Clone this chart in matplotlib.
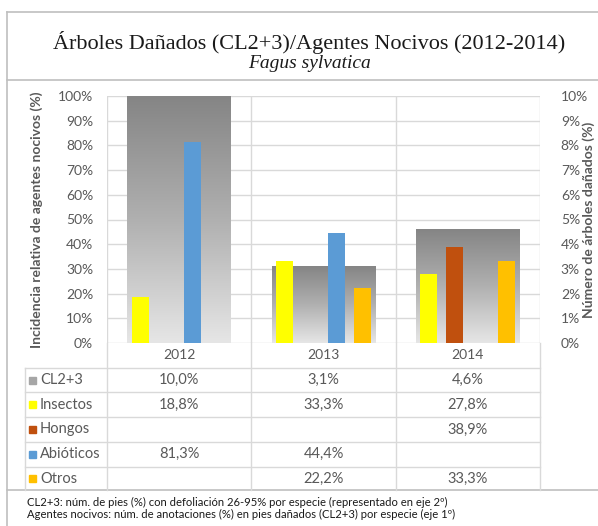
import matplotlib.pyplot as plt
import numpy as np
from matplotlib.colors import LinearSegmentedColormap

# datos
years = ["2012", "2013", "2014"]
cl23 = [10.0, 3.1, 4.6]                      # % árboles dañados (eje 2º)
agentes = ["Insectos", "Hongos", "Abióticos", "Otros"]
insectos = [18.8, 33.3, 27.8]
hongos = [None, None, 38.9]
abioticos = [81.3, 44.4, None]
otros = [None, 22.2, 33.3]
colores = ["#FFFF00", "#C0500E", "#5B9BD5", "#FFC000"]

W, H = 598, 526
fig = plt.figure(figsize=(W / 100, H / 100), dpi=100)
plt.rcParams['font.family'] = ['Lato', 'DejaVu Sans']
gris = "#595959"
linea = "#d9d9d9"

# geometría (pixeles)
px_l, px_r, px_t, px_b = 107, 540, 96, 343
row_h = 24.7
tab_left = 25

def fx(x):
    return x / W

def fy(y):
    return 1 - y / H

# capa de fondo en pixeles
bg = fig.add_axes([0, 0, 1, 1], zorder=0)
bg.set_xlim(0, W)
bg.set_ylim(H, 0)
bg.axis("off")

# marco
bg.plot([7, W], [12, 12], color="#bfbfbf", lw=1.2)
bg.plot([7, W], [80, 80], color="#bfbfbf", lw=1.2)
bg.plot([7, 7], [12, H], color="#bfbfbf", lw=1.2)
bg.plot([7, W], [490, 490], color="#bfbfbf", lw=1.2)

bg.text(309, 42, "Árboles Dañados (CL2+3)/Agentes Nocivos (2012-2014)",
        family="Liberation Serif", fontsize=16, ha="center", va="center", color="#1a1a1a")
bg.text(309, 63, "Fagus sylvatica", family="Liberation Serif", style="italic",
        fontsize=14, ha="center", va="center", color="#1a1a1a")

# ejes principal y secundario
ax2 = fig.add_axes([fx(px_l), fy(px_b), fx(px_r - px_l), (px_b - px_t) / H], zorder=1)
ax = ax2.twinx()
ax.set_zorder(2)
ax.patch.set_visible(False)
ax2.patch.set_visible(False)

ax2.yaxis.tick_right()
ax.yaxis.tick_left()
ax2.yaxis.set_label_position("right")
ax.yaxis.set_label_position("left")

x = np.arange(len(years))
cat_w = 0.72
grad = np.linspace(0, 1, 256).reshape(-1, 1)
cmap_cl = LinearSegmentedColormap.from_list("cl", ["#e6e6e6", "#b0b0b0", "#858585"])
for xi, v in zip(x, cl23):
    ax2.imshow(grad, extent=(xi - cat_w / 2, xi + cat_w / 2, 0, v), aspect="auto",
               cmap=cmap_cl, origin="lower", zorder=2, interpolation="bilinear")

ax2.set_xlim(-0.5, len(years) - 0.5)
ax2.set_ylim(0, 10)
ax2.set_yticks(np.arange(0, 11, 1))
ax2.set_yticklabels([f"{t}%" for t in range(0, 11)])
ax2.grid(axis="y", color=linea, lw=1, zorder=0)
ax2.set_axisbelow(True)
for b in np.arange(-0.5, len(years), 1):
    ax2.axvline(b, color=linea, lw=1, zorder=0)

bar_w = 0.117
offs = [-0.27, -0.09, 0.09, 0.27]
for serie, col, off in zip([insectos, hongos, abioticos, otros], colores, offs):
    vals = [v if v is not None else 0 for v in serie]
    ax.bar(x + off, vals, width=bar_w, color=col, zorder=3)

ax.set_ylim(0, 100)
ax.set_yticks(np.arange(0, 101, 10))
ax.set_yticklabels([f"{t}%" for t in range(0, 101, 10)])
ax.set_xticks([])
ax2.set_xticks([])
for a in (ax, ax2):
    for s in a.spines.values():
        s.set_visible(False)
    a.tick_params(length=0, labelsize=10, labelcolor=gris)
ax.tick_params(axis="y", pad=10)
ax2.tick_params(axis="y", pad=15)

ax.set_ylabel("Incidencia relativa de agentes nocivos (%)", fontsize=10,
              fontweight="bold", color=gris, labelpad=11)
bg.text(589, 220, "Número de árboles dañados (%)", rotation=90, fontsize=10,
        fontweight="bold", color=gris, ha="center", va="center")

# tabla de datos
col_w = (px_r - px_l) / len(years)
centers = [px_l + col_w * (i + 0.5) for i in range(len(years))]
head_bot = px_b + row_h
for i, c in enumerate(centers):
    bg.text(c, px_b + row_h / 2, years[i], ha="center", va="center", fontsize=10, color=gris)

filas = [("CL2+3", cl23, "#a6a6a6")] + \
        [(n, s, c) for n, s, c in zip(agentes, [insectos, hongos, abioticos, otros], colores)]
for r, (nombre, serie, col) in enumerate(filas):
    yc = head_bot + row_h * (r + 0.5)
    bg.add_patch(plt.Rectangle((29, yc - 3.5), 7, 7, color=col))
    bg.text(40, yc, nombre, ha="left", va="center", fontsize=10.5, color=gris)
    for c, v in zip(centers, serie):
        if v is not None:
            bg.text(c, yc, f"{v:.1f}%".replace(".", ","), ha="center", va="center",
                    fontsize=10.5, color=gris)

for r in range(len(filas)):
    yl = head_bot + row_h * r
    bg.plot([tab_left, px_r], [yl, yl], color=linea, lw=1)
bg.plot([tab_left, tab_left], [head_bot, 490], color=linea, lw=1)
for i in range(len(years) + 1):
    xl = px_l + col_w * i
    bg.plot([xl, xl], [px_b, 490], color=linea, lw=1)

bg.text(27, 502, "CL2+3: núm. de pies (%) con defoliación 26-95% por especie (representado en eje 2º)",
        fontsize=8.1, va="center", color="#1a1a1a")
bg.text(27, 514, "Agentes nocivos: núm. de anotaciones (%) en pies dañados (CL2+3) por especie (eje 1º)",
        fontsize=8.1, va="center", color="#1a1a1a")

fig.savefig("out.png", dpi=100)
